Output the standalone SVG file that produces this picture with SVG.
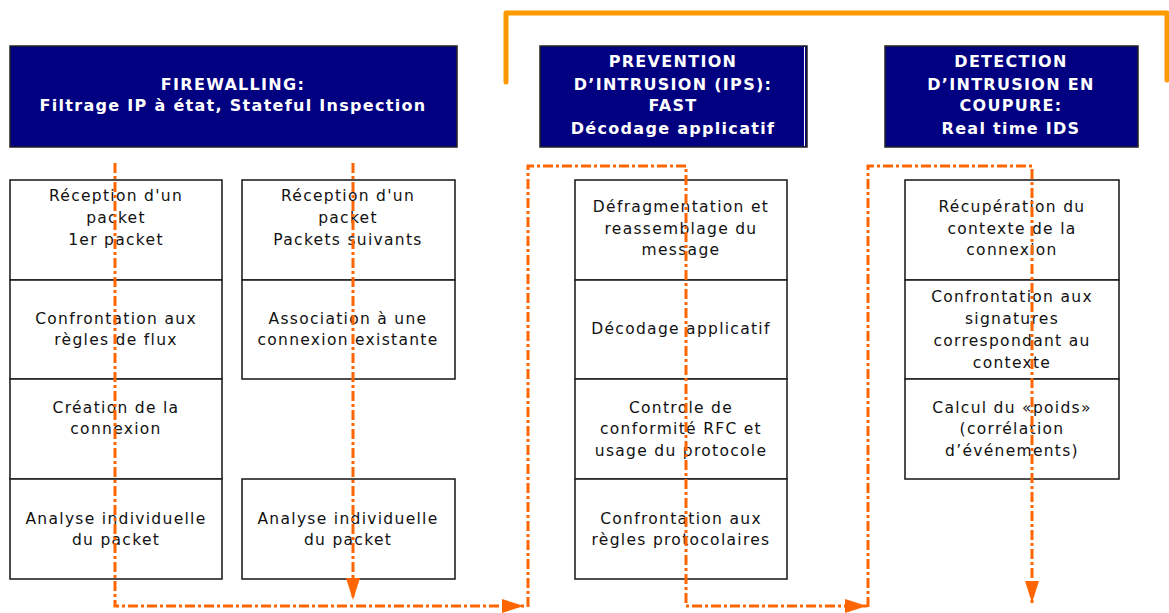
<svg xmlns="http://www.w3.org/2000/svg" width="1169" height="613" viewBox="0 0 1169 613">
<style>
.hdr{fill:#000080;stroke:#222;stroke-width:1.5}
.ht{font-family:"DejaVu Sans","Liberation Sans",sans-serif;font-weight:bold;font-size:16px;fill:#fff;text-anchor:middle;letter-spacing:1.3px}
.box{fill:#fff;stroke:#222;stroke-width:1.6}
.bt{font-family:"DejaVu Sans","Liberation Sans",sans-serif;font-size:15.5px;fill:#111;text-anchor:middle;letter-spacing:1.3px}
.flow{fill:none;stroke:#FF6600;stroke-width:3;stroke-dasharray:10 3 3 3}
</style>
<defs>
<marker id="ah" viewBox="0 0 22 14" refX="22" refY="7" markerWidth="22" markerHeight="14" markerUnits="userSpaceOnUse" orient="auto">
<path d="M0,0 L22,7 L0,14 z" fill="#FF6600"/>
</marker>
</defs>
<rect width="1169" height="613" fill="#fff"/>

<g id="bracket">
<polyline points="506,82 506,13 1167,13 1167,80" fill="none" stroke="#FF9900" stroke-width="5" stroke-linejoin="round" stroke-linecap="round"/>
</g>

<g id="hdr-firewall">
<rect class="hdr" x="10" y="46" width="447" height="101"/>
<text class="ht" x="233" y="90">FIREWALLING:</text>
<text class="ht" x="233" y="111">Filtrage IP à état, Stateful Inspection</text>
</g>
<g id="hdr-ips">
<rect class="hdr" x="540" y="46" width="267" height="101"/>
<line x1="804.5" y1="47" x2="804.5" y2="146" stroke="#fff" stroke-width="1"/>
<text class="ht" x="673" y="67">PREVENTION</text>
<text class="ht" x="673" y="90">D’INTRUSION (IPS):</text>
<text class="ht" x="673" y="111">FAST</text>
<text class="ht" x="673" y="134">Décodage applicatif</text>
</g>
<g id="hdr-ids">
<rect class="hdr" x="885" y="46" width="253" height="101"/>
<text class="ht" x="1011" y="67">DETECTION</text>
<text class="ht" x="1011" y="90">D’INTRUSION EN</text>
<text class="ht" x="1011" y="111">COUPURE:</text>
<text class="ht" x="1011" y="134">Real time IDS</text>
</g>

<g id="fw1-1"><rect class="box" x="10" y="180" width="212" height="100"/>
<text class="bt" x="116" y="201">Réception d'un</text><text class="bt" x="116" y="223">packet</text><text class="bt" x="116" y="245">1er packet</text></g>
<g id="fw1-2"><rect class="box" x="10" y="280" width="212" height="99"/>
<text class="bt" x="116" y="324">Confrontation aux</text><text class="bt" x="116" y="345">règles de flux</text></g>
<g id="fw1-3"><rect class="box" x="10" y="379" width="212" height="100"/>
<text class="bt" x="116" y="413">Création de la</text><text class="bt" x="116" y="434">connexion</text></g>
<g id="fw1-4"><rect class="box" x="10" y="479" width="212" height="100"/>
<text class="bt" x="116" y="524">Analyse individuelle</text><text class="bt" x="116" y="545">du packet</text></g>

<g id="fw2-1"><rect class="box" x="242" y="180" width="213" height="100"/>
<text class="bt" x="348" y="201">Réception d'un</text><text class="bt" x="348" y="223">packet</text><text class="bt" x="348" y="245">Packets suivants</text></g>
<g id="fw2-2"><rect class="box" x="242" y="280" width="213" height="99"/>
<text class="bt" x="348" y="324">Association à une</text><text class="bt" x="348" y="345">connexion existante</text></g>
<g id="fw2-4"><rect class="box" x="242" y="479" width="213" height="100"/>
<text class="bt" x="348" y="524">Analyse individuelle</text><text class="bt" x="348" y="545">du packet</text></g>

<g id="ips-1"><rect class="box" x="575" y="180" width="212" height="100"/>
<text class="bt" x="681" y="212">Défragmentation et</text><text class="bt" x="681" y="234">reassemblage du</text><text class="bt" x="681" y="255">message</text></g>
<g id="ips-2"><rect class="box" x="575" y="280" width="212" height="99"/>
<text class="bt" x="681" y="334">Décodage applicatif</text></g>
<g id="ips-3"><rect class="box" x="575" y="379" width="212" height="100"/>
<text class="bt" x="681" y="413">Controle de</text><text class="bt" x="681" y="434">conformité RFC et</text><text class="bt" x="681" y="456">usage du protocole</text></g>
<g id="ips-4"><rect class="box" x="575" y="479" width="212" height="100"/>
<text class="bt" x="681" y="524">Confrontation aux</text><text class="bt" x="681" y="545">règles protocolaires</text></g>

<g id="ids-1"><rect class="box" x="905" y="180" width="214" height="100"/>
<text class="bt" x="1012" y="212">Récupération du</text><text class="bt" x="1012" y="234">contexte de la</text><text class="bt" x="1012" y="255">connexion</text></g>
<g id="ids-2"><rect class="box" x="905" y="280" width="214" height="99"/>
<text class="bt" x="1012" y="302">Confrontation aux</text><text class="bt" x="1012" y="324">signatures</text><text class="bt" x="1012" y="346">correspondant au</text><text class="bt" x="1012" y="368">contexte</text></g>
<g id="ids-3"><rect class="box" x="905" y="379" width="214" height="100"/>
<text class="bt" x="1012" y="413">Calcul du «poids»</text><text class="bt" x="1012" y="434">(corrélation</text><text class="bt" x="1012" y="456">d’événements)</text></g>

<g id="connectors">
<path class="flow" d="M115,163 V606 H524" marker-end="url(#ah)"/>
<path class="flow" d="M353,163 V600" marker-end="url(#ah)"/>
<path class="flow" d="M528,607 V166 H686 V606 H867" marker-end="url(#ah)"/>
<path class="flow" d="M868,607 V166 H1032 V603" marker-end="url(#ah)"/>
</g>
</svg>
